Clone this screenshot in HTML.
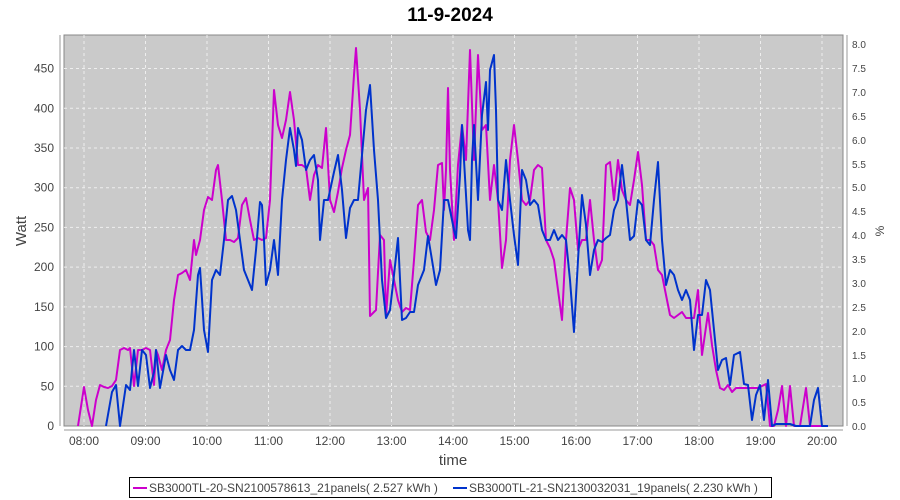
<!DOCTYPE html>
<html><head><meta charset="utf-8"><style>body{margin:0;background:#fff}svg{display:block;font-family:"Liberation Sans",sans-serif}</style></head><body>
<svg width="900" height="500" viewBox="0 0 900 500">
<text x="450" y="21" text-anchor="middle" font-size="19" font-weight="bold" fill="#000">11-9-2024</text>
<rect x="64" y="35" width="779" height="391" fill="#cacaca" stroke="#888" stroke-width="1"/>
<g stroke="#eee" stroke-dasharray="3,3" stroke-width="1">
<line x1="64" x2="843" y1="386.3" y2="386.3"/><line x1="64" x2="843" y1="346.6" y2="346.6"/><line x1="64" x2="843" y1="306.9" y2="306.9"/><line x1="64" x2="843" y1="267.1" y2="267.1"/><line x1="64" x2="843" y1="227.4" y2="227.4"/><line x1="64" x2="843" y1="187.7" y2="187.7"/><line x1="64" x2="843" y1="148" y2="148"/><line x1="64" x2="843" y1="108.3" y2="108.3"/><line x1="64" x2="843" y1="68.5" y2="68.5"/>
<line y1="35" y2="426" x1="84" x2="84"/><line y1="35" y2="426" x1="145.5" x2="145.5"/><line y1="35" y2="426" x1="207" x2="207"/><line y1="35" y2="426" x1="268.5" x2="268.5"/><line y1="35" y2="426" x1="330" x2="330"/><line y1="35" y2="426" x1="391.5" x2="391.5"/><line y1="35" y2="426" x1="453" x2="453"/><line y1="35" y2="426" x1="514.5" x2="514.5"/><line y1="35" y2="426" x1="576" x2="576"/><line y1="35" y2="426" x1="637.5" x2="637.5"/><line y1="35" y2="426" x1="699" x2="699"/><line y1="35" y2="426" x1="760.5" x2="760.5"/><line y1="35" y2="426" x1="822" x2="822"/>
</g>
<g stroke="#999" stroke-width="1"><line x1="60" y1="35" x2="60" y2="426"/><line x1="847" y1="35" x2="847" y2="426"/><line x1="64" y1="430" x2="843" y2="430"/></g>
<g font-size="12" fill="#444" text-anchor="end">
<text x="54" y="430">0</text><text x="54" y="390.3">50</text><text x="54" y="350.6">100</text><text x="54" y="310.9">150</text><text x="54" y="271.1">200</text><text x="54" y="231.4">250</text><text x="54" y="191.7">300</text><text x="54" y="152">350</text><text x="54" y="112.3">400</text><text x="54" y="72.5">450</text>
</g>
<g font-size="10" fill="#444">
<text x="852" y="430">0.0</text><text x="852" y="406">0.5</text><text x="852" y="382">1.0</text><text x="852" y="359">1.5</text><text x="852" y="335">2.0</text><text x="852" y="311">2.5</text><text x="852" y="287">3.0</text><text x="852" y="263">3.5</text><text x="852" y="239">4.0</text><text x="852" y="215">4.5</text><text x="852" y="191">5.0</text><text x="852" y="168">5.5</text><text x="852" y="144">6.0</text><text x="852" y="120">6.5</text><text x="852" y="96">7.0</text><text x="852" y="72">7.5</text><text x="852" y="48">8.0</text>
</g>
<g font-size="12" fill="#444" text-anchor="middle">
<text x="84" y="445">08:00</text><text x="145.5" y="445">09:00</text><text x="207" y="445">10:00</text><text x="268.5" y="445">11:00</text><text x="330" y="445">12:00</text><text x="391.5" y="445">13:00</text><text x="453" y="445">14:00</text><text x="514.5" y="445">15:00</text><text x="576" y="445">16:00</text><text x="637.5" y="445">17:00</text><text x="699" y="445">18:00</text><text x="760.5" y="445">19:00</text><text x="822" y="445">20:00</text>
</g>
<text x="453" y="465" text-anchor="middle" font-size="15" fill="#444">time</text>
<text transform="translate(26,231) rotate(-90)" text-anchor="middle" font-size="15" fill="#444">Watt</text>
<text transform="translate(884,231) rotate(-90)" text-anchor="middle" font-size="12" fill="#444">%</text>
<polyline fill="none" stroke="#cc00cc" stroke-width="2" stroke-linejoin="round" points="78,426 84,387 88,410 92,426 96,400 100,385 104,387 108,388 112,386 116,380 120,350 124,348 128,350 130,348 134,386 138,350 142,350 146,348 150,350 154,385 156,350 158,355 162,370 166,350 170,340 174,300 178,275 182,273 186,270 190,280 194,240 196,255 200,240 204,210 208,197 212,200 216,170 218,165 222,200 226,240 230,240 234,242 238,238 242,205 246,198 250,220 254,240 258,238 262,240 266,238 270,200 274,90 278,125 282,138 286,120 290,92 294,120 298,165 302,165 306,168 310,200 314,175 318,165 322,168 326,128 330,200 334,212 338,192 342,168 346,150 350,135 354,75 356,48 360,110 364,200 368,188 370,316 376,310 380,235 384,240 386,316 390,260 394,280 398,300 402,312 406,308 410,310 414,260 418,205 422,200 426,232 430,240 434,210 438,165 442,163 444,210 446,170 448,88 450,170 454,240 458,165 462,125 466,160 470,50 474,160 478,55 482,130 486,125 490,200 494,165 498,200 502,268 506,240 510,160 514,125 518,160 522,200 526,205 530,200 534,170 538,165 542,168 546,240 550,248 554,260 558,290 562,320 566,240 570,188 574,200 578,250 582,240 586,240 590,200 594,240 598,270 602,260 606,165 610,162 614,200 618,160 622,190 626,200 630,205 634,180 638,152 642,185 646,240 650,240 654,245 658,270 662,275 666,295 670,315 674,318 678,315 682,312 686,318 690,318 694,318 698,290 702,355 708,313 712,345 716,370 720,388 724,390 728,385 732,392 736,388 740,388 750,388 758,388 766,384 770,426 774,426 778,410 782,386 786,426 790,386 794,426 800,426 806,388 810,426 828,426"/>
<polyline fill="none" stroke="#0033cc" stroke-width="2" stroke-linejoin="round" points="106,426 112,392 116,385 120,426 126,385 130,390 134,350 138,386 142,350 146,355 150,388 154,372 156,350 160,388 166,355 170,370 174,380 178,350 182,346 186,350 190,350 194,330 198,275 200,268 204,330 208,352 212,280 216,270 220,275 224,240 228,200 232,196 236,210 240,240 244,270 248,280 252,290 256,250 260,202 262,205 264,240 266,285 270,270 274,240 278,275 282,200 286,160 290,128 294,150 296,166 298,128 302,140 306,170 310,160 314,155 318,180 320,240 324,200 328,200 334,172 338,155 342,190 346,238 350,208 354,200 358,200 362,155 366,110 370,85 374,150 378,200 382,280 386,318 390,310 394,275 398,238 402,320 406,318 410,312 414,312 418,285 420,280 424,270 428,236 432,260 436,285 440,270 444,200 448,200 450,210 454,230 456,238 460,175 462,125 464,160 468,230 470,240 472,160 474,125 478,200 482,115 486,82 488,130 490,70 494,55 496,110 498,200 502,210 506,160 510,200 514,235 518,265 522,170 526,180 530,205 534,200 538,205 542,230 546,240 550,240 554,230 558,240 562,235 566,240 570,280 574,332 578,260 582,195 586,225 590,275 594,250 598,240 602,242 606,238 610,235 614,210 618,200 622,165 626,200 630,240 634,236 638,200 642,205 646,240 650,245 654,200 658,162 662,240 666,285 670,270 674,275 678,290 682,300 686,290 690,300 694,350 698,315 702,315 706,280 710,290 714,330 718,370 722,360 726,358 730,385 734,355 740,352 744,384 748,385 752,420 756,395 760,385 764,420 768,380 772,426 776,424 790,424 796,426 810,426 814,400 818,388 822,426 828,426"/>
<rect x="129.5" y="477.5" width="642" height="20" fill="#fff" stroke="#000"/>
<line x1="133" x2="147" y1="488" y2="488" stroke="#cc00cc" stroke-width="2"/>
<text x="149" y="492" font-size="12" fill="#444">SB3000TL-20-SN2100578613_21panels( 2.527 kWh )</text>
<line x1="453" x2="467" y1="488" y2="488" stroke="#0033cc" stroke-width="2"/>
<text x="469" y="492" font-size="12" fill="#444">SB3000TL-21-SN2130032031_19panels( 2.230 kWh )</text>
</svg>
</body></html>
